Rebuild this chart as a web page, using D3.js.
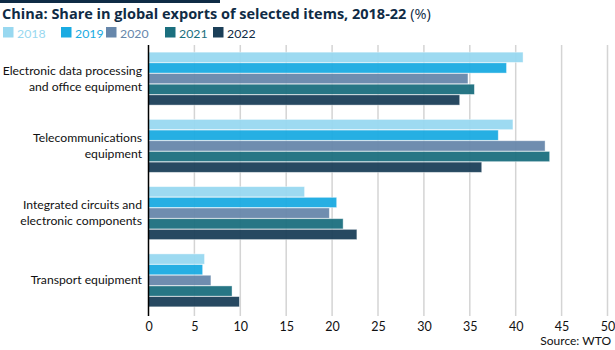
<!DOCTYPE html>
<html>
<head>
<meta charset="utf-8">
<script src="https://cdn.jsdelivr.net/npm/d3@7"></script>
<style>
  body { margin: 0; background: #fff; }
  svg { font-family: Lato, "Open Sans", sans-serif; }
</style>
</head>
<body>
<svg id="chart" width="615" height="350"></svg>
<script>
const categorias = [
    ["Electronic data processing", "and office equipment"],
    ["Telecommunications", "equipment"],
    ["Integrated circuits and", "electronic components"],
    ["Transport equipment"]
];
const anos = ["2018", "2019", "2020", "2021", "2022"];
const cores = ["#98d8f0", "#1aabe2", "#6787ab", "#1b6f7e", "#1b3f58"];
const valores2018 = [40.8, 39.7, 17.0, 6.1];
const valores2019 = [39.0, 38.1, 20.5, 5.9];
const valores2020 = [34.8, 43.2, 19.7, 6.8];
const valores2021 = [35.5, 43.7, 21.2, 9.1];
const valores2022 = [33.9, 36.3, 22.7, 9.9];
const ticks = [0, 5, 10, 15, 20, 25, 30, 35, 40, 45, 50];

const series = [valores2018, valores2019, valores2020, valores2021, valores2022];
const dados = categorias.map((c, i) => ({
    idx: i,
    vals: anos.map((a, j) => ({ ano: a, cor: cores[j], v: series[j][i] }))
}));

const svg = d3.select("#chart");
const margem = { left: 148.5, right: 7.5, top: 45, bottom: 36 };
const W = 615, H = 350;

const x = d3.scaleLinear().domain([0, 50]).range([margem.left, W - margem.right]);
const y0 = d3.scaleBand().domain(d3.range(categorias.length))
    .range([margem.top, H - margem.bottom]).paddingInner(0.2).paddingOuter(0.1);
const y1 = d3.scaleBand().domain(anos).range([0, y0.bandwidth()]).padding(0.04);

// barra superior
svg.append("rect").attr("x", 0).attr("y", 0).attr("width", 220).attr("height", 3).attr("fill", "#0f2b45");

// titulo
const titulo = svg.append("text").attr("x", 2).attr("y", 19)
    .attr("font-size", 14.5).attr("fill", "#0f2b45").attr("font-family", "'Open Sans', sans-serif");
titulo.append("tspan").attr("font-weight", "bold").text("China: Share in global exports of selected items, 2018-22");
titulo.append("tspan").text(" (%)");

// legenda
const legX = [3, 61, 106, 165, 213];
anos.forEach((a, j) => {
    const g = svg.append("g").attr("transform", `translate(${legX[j]},27)`);
    g.append("rect").attr("width", 10.5).attr("height", 10.5).attr("fill", cores[j]);
    g.append("text").attr("x", 14).attr("y", 10.5).attr("font-size", 12.3)
        .attr("fill", j === 4 ? "#0f2b45" : cores[j]).text(a);
});

// grade
svg.append("g").selectAll("line").data(ticks.slice(1)).join("line")
    .attr("x1", d => x(d)).attr("x2", d => x(d))
    .attr("y1", margem.top).attr("y2", H - margem.bottom + 2)
    .attr("stroke", "#d4d4d4").attr("stroke-width", 1.5);

// barras
const grupos = svg.append("g").selectAll("g").data(dados).join("g")
    .attr("transform", d => `translate(0,${y0(d.idx)})`);
grupos.selectAll("rect").data(d => d.vals).join("rect")
    .attr("x", x(0))
    .attr("y", d => y1(d.ano))
    .attr("width", d => x(d.v) - x(0))
    .attr("height", y1.bandwidth())
    .attr("fill", d => d.cor)
    .attr("fill-opacity", 0.95)
    .attr("stroke", "#ffffff").attr("stroke-opacity", 0.5).attr("stroke-width", 0.8);

// eixo vertical
svg.append("line").attr("x1", x(0)).attr("x2", x(0))
    .attr("y1", margem.top).attr("y2", H - margem.bottom + 2)
    .attr("stroke", "#000").attr("stroke-width", 1.5);

// rotulos das categorias
dados.forEach(d => {
    const linhas = categorias[d.idx];
    const cy = y0(d.idx) + y0.bandwidth() / 2;
    const t = svg.append("text").attr("text-anchor", "end").attr("font-size", 12.2).attr("fill", "#111");
    linhas.forEach((l, k) => {
        t.append("tspan").attr("x", 142)
            .attr("y", cy + 4 + (k - (linhas.length - 1) / 2) * 16)
            .text(l);
    });
});

// eixo x
const eixoX = d3.axisBottom(x).tickValues(ticks).tickSize(0).tickPadding(8);
svg.append("g").attr("transform", `translate(0,${H - margem.bottom})`).call(eixoX)
    .call(g => g.select(".domain").remove())
    .call(g => g.selectAll("text").attr("font-size", 12.5).attr("fill", "#111")
        .attr("font-family", "Lato, sans-serif"));

// fonte
svg.append("text").attr("x", 611).attr("y", 345).attr("text-anchor", "end")
    .attr("font-size", 12).attr("fill", "#111").text("Source: WTO");
</script>
</body>
</html>
